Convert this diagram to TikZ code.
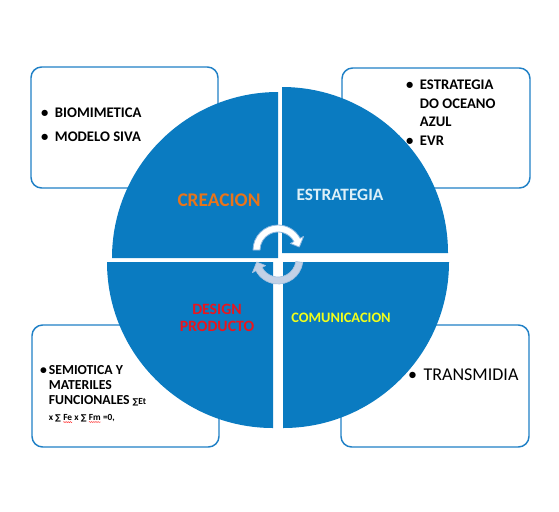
\documentclass[tikz,border=0pt]{standalone}
\usepackage{fontspec}
\setmainfont{Carlito}
\newfontfamily\simbolo{DejaVu Sans}
\usepackage{xcolor}
\usetikzlibrary{positioning, decorations.pathmorphing}
\definecolor{azulcirc}{HTML}{0A7BC1}
\definecolor{azulborde}{HTML}{1F80C6}
\definecolor{naranja}{HTML}{E8741A}
\definecolor{rojo}{HTML}{E8161E}
\definecolor{amarillo}{HTML}{F2FF1A}
\definecolor{celeste}{HTML}{DDF0F8}
\definecolor{gris}{HTML}{C3D1E6}
\definecolor{bordeflecha}{HTML}{8DB8E0}
\newcommand{\px}{0.75pt}
\newcommand{\suma}{{\simbolo\fontsize{6}{7}\selectfont ∑}}
\newcommand{\ondaroja}[1]{\tikz[baseline=(p.base)]{\node[inner sep=0pt] (p) {#1};
  \draw[red, line width=0.3pt, decorate, decoration={snake, amplitude=0.35pt, segment length=1.6pt}]
    ([yshift=-1.2pt]p.south west) -- ([yshift=-1.2pt]p.south east);}}
\tikzset{
  % cajas de fondo
  caja/.style={draw=azulborde, line width=1.1pt, rounded corners=8pt, fill=white, inner sep=0pt},
  % cuadrantes del circulo
  cuadrante/.style={fill=azulcirc},
  lista/.style={inner sep=0pt, outer sep=0pt, font=\bfseries},
  rotulo/.style={inner sep=0pt, font=\bfseries, align=center},
  flecha blanca/.style={fill=white, draw=bordeflecha, line width=0.6pt, line join=round},
  flecha gris/.style={fill=gris, draw=gris!80!azulborde, line width=0.5pt, line join=round}
}
\begin{document}
\begin{tikzpicture}[x=\px, y=-\px]
    \useasboundingbox (0,0) rectangle (559,511);
    % cajas
    \node[caja, minimum width=187*\px, minimum height=121*\px] (cajaCre) at (124.5,127.5) {};
    \node[caja, minimum width=188*\px, minimum height=120*\px] (cajaEst) at (436,128) {};
    \node[caja, minimum width=187*\px, minimum height=122*\px] (cajaDes) at (125.5,386) {};
    \node[caja, minimum width=188*\px, minimum height=122*\px] (cajaCom) at (435,386) {};
    % circulo en cuatro partes
    \foreach \cx/\cy/\ang in {278/258/90, 282/253/0, 273/262/180, 283/262/270}{
      \begin{scope}[shift={(\cx,\cy)}, yscale=-1]
        \fill[cuadrante] (0,0) -- (\ang:166) arc[start angle=\ang, end angle=\ang+90, radius=166] -- cycle;
      \end{scope}
    }
    % flechas del ciclo
    \begin{scope}[shift={(278,250)}, yscale=-1]
      \draw[flecha blanca] (180:25) arc[start angle=180, end angle=28, radius=25]
        -- (28:29) -- (8:21.5) -- (28:14) -- (28:18)
        arc[start angle=28, end angle=180, radius=18] -- cycle;
    \end{scope}
    \begin{scope}[shift={(278,259)}, yscale=-1]
      \draw[flecha gris] (-8:25) arc[start angle=-8, end angle=-152, radius=25]
        -- (-152:29) -- (-172:21.5) -- (-152:14) -- (-152:18)
        arc[start angle=-152, end angle=-8, radius=18] -- cycle;
    \end{scope}
    % rotulos
    \node[rotulo, naranja, font=\bfseries\fontsize{14.5}{16}\selectfont] (creacion) at (219,200) {CREACION};
    \node[rotulo, celeste, font=\bfseries\fontsize{13}{15}\selectfont] (estrategia) at (340,195) {ESTRATEGIA};
    \node[rotulo, rojo, font=\bfseries\fontsize{11.8}{12.5}\selectfont] (design) at (217,318) {DESIGN\\PRODUCTO};
    \node[rotulo, amarillo, font=\bfseries\fontsize{10.8}{12}\selectfont] (comunicacion) at (341,318) {COMUNICACION};
    % listas
    \node[lista, anchor=base west, font=\bfseries\fontsize{11}{18}\selectfont] (listaCre) at (41,117.5)
      {\begin{tabular}[t]{@{}l@{\hspace{5pt}}l@{}}
        \textbullet & BIOMIMETICA\\
        \textbullet & MODELO SIVA
      \end{tabular}};
    \node[lista, anchor=base west, font=\bfseries\fontsize{11}{14}\selectfont] (listaEst) at (406,89.5)
      {\begin{tabular}[t]{@{}l@{\hspace{5pt}}l@{}}
        \textbullet & ESTRATEGIA\\
                    & DO OCEANO\\
                    & AZUL\\
        \textbullet & EVR
      \end{tabular}};
    \node[lista, anchor=base west, font=\bfseries\fontsize{10.3}{11.6}\selectfont] (listaDes) at (40,374)
      {\begin{tabular}[t]{@{}l@{\hspace{1.5pt}}l@{}}
        \textbullet & SEMIOTICA Y\\
                    & MATERILES\\
                    & FUNCIONALES {\fontsize{7}{8}\selectfont\suma Et}\\
                    & {\fontsize{7}{8}\selectfont x \suma{} \ondaroja{Fe} x \suma{} \ondaroja{Fm} =0,}
      \end{tabular}};
    \node[lista, anchor=base west, font=\fontsize{13.5}{16}\selectfont] (listaCom) at (408,380.5)
      {\begin{tabular}[t]{@{}l@{\hspace{5pt}}l@{}}
        \textbullet & TRANSMIDIA
      \end{tabular}};
\end{tikzpicture}
\end{document}
